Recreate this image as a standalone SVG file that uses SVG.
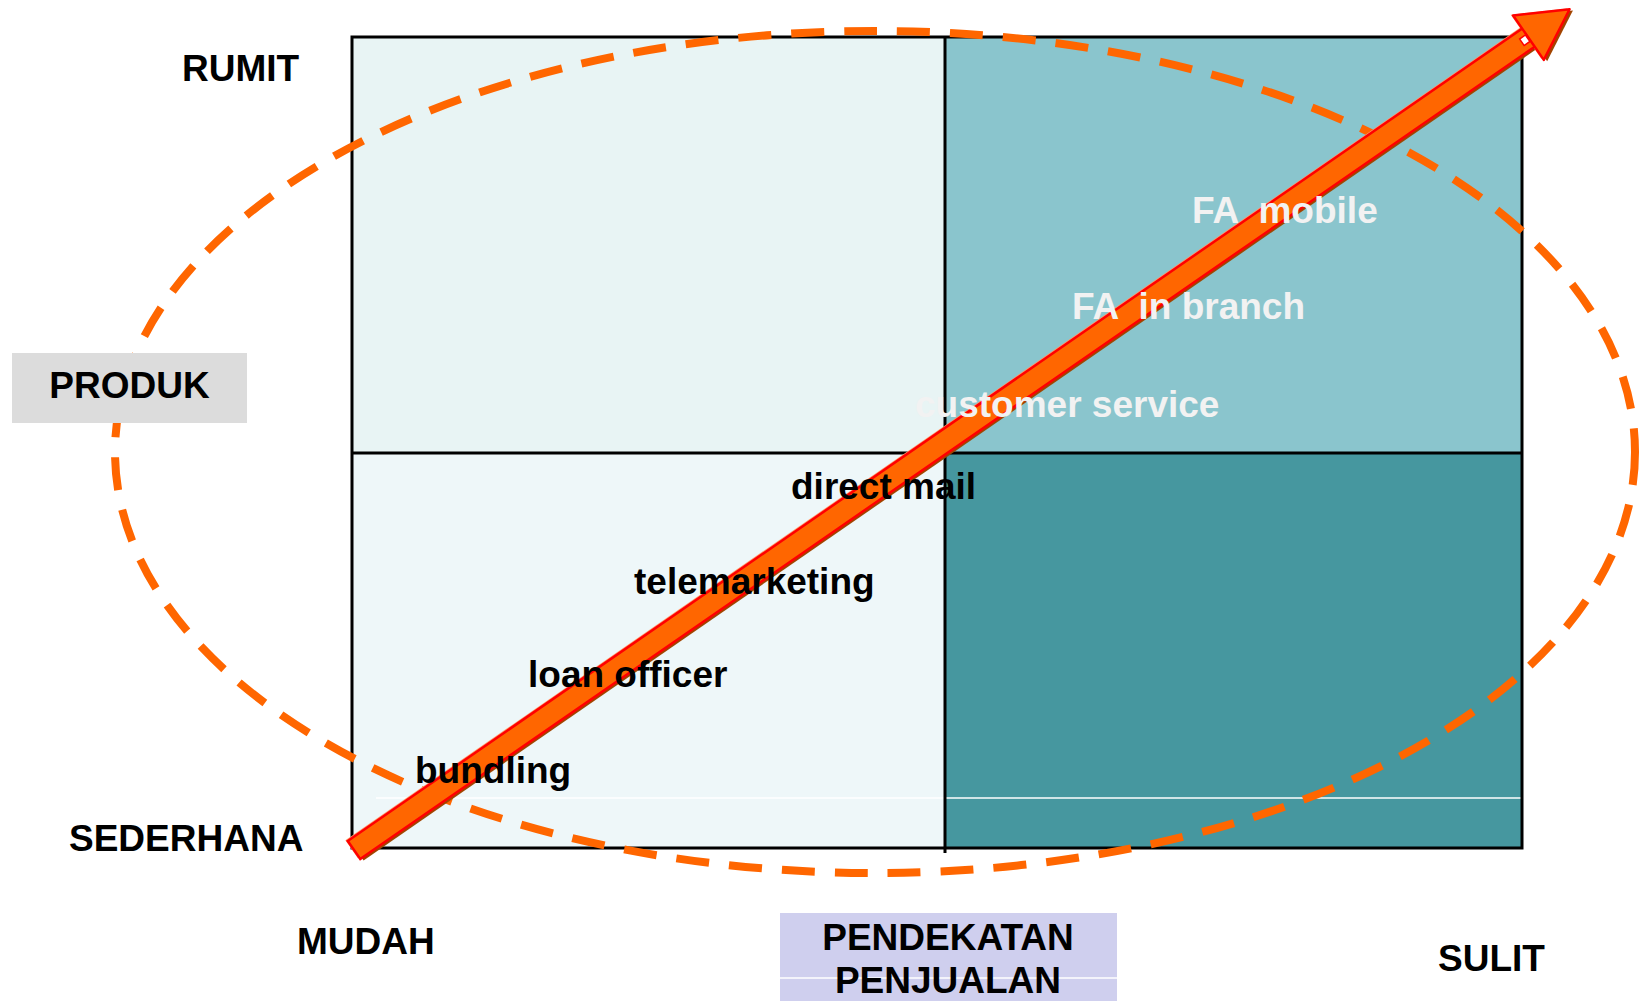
<svg xmlns="http://www.w3.org/2000/svg" width="1639" height="1001" viewBox="0 0 1639 1001">
<style>
text{font-family:"Liberation Sans",Arial,Helvetica,sans-serif;font-weight:bold;font-size:37px;fill:#000}
.w{fill:#f2f2f2}
.grid{stroke:#000;stroke-width:3;fill:none}
</style>
<rect width="1639" height="1001" fill="#fff"/>
<g id="grid">
<rect x="352" y="37" width="593" height="416" fill="#e8f4f4"/>
<rect x="945" y="37" width="577" height="416" fill="#8ac5cd"/>
<rect x="352" y="453" width="593" height="395" fill="#eef7f9"/>
<rect x="945" y="453" width="577" height="395" fill="#46979f"/>
<line x1="376" y1="798" x2="1521" y2="798" stroke="#fff" stroke-width="1.5"/>
<rect class="grid" x="352" y="37" width="1170" height="811"/>
<line class="grid" x1="945" y1="37" x2="945" y2="853"/>
<line class="grid" x1="352" y1="453" x2="1522" y2="453"/>
</g>
<g id="connectors">
<ellipse cx="875" cy="452" rx="760" ry="421" fill="none" stroke="#ff6600" stroke-width="8" stroke-dasharray="33 20"/>
<g transform="translate(354,850) rotate(-34.67)">
<g transform="translate(2,3)" fill="#a24400">
<rect x="0" y="-11" width="1432" height="22"/>
<polygon points="1428,-27 1478,0 1428,27"/>
</g>
<g transform="translate(-1.5,-2)" fill="#ff9966">
<rect x="0" y="-11" width="1432" height="22"/>
<polygon points="1428,-27 1478,0 1428,27"/>
</g>
<rect x="0" y="-11" width="1432" height="22" fill="#ff6600" stroke="#ff0000" stroke-width="2.5"/>
<polygon points="1428,-27 1478,0 1428,27" fill="#ff6600" stroke="#ff0000" stroke-width="2.5" stroke-linejoin="round"/>
<rect x="1420" y="-4" width="7" height="8" fill="#fff" stroke="#ff0000" stroke-width="1.5"/>
</g>
</g>
<g id="axis-labels">
<g id="rumit"><text x="182" y="81">RUMIT</text></g>
<g id="sederhana"><text x="69" y="851">SEDERHANA</text></g>
<g id="mudah"><text x="297" y="954">MUDAH</text></g>
<g id="sulit"><text x="1438" y="971">SULIT</text></g>
<g id="produk"><rect x="12" y="353" width="235" height="70" fill="#dcdcdc"/><text x="129.5" y="398" text-anchor="middle">PRODUK</text></g>
<g id="pendekatan"><rect x="780" y="913" width="337" height="88" fill="#cfcfee"/><line x1="780" y1="978" x2="1117" y2="978" stroke="#fff" stroke-width="1.5"/><text x="948" y="950" text-anchor="middle">PENDEKATAN</text><text x="948" y="993" text-anchor="middle">PENJUALAN</text></g>
</g>
<g id="channels-white">
<g id="fa-mobile"><text class="w" x="1192" y="223" xml:space="preserve">FA  mobile</text></g>
<g id="fa-branch"><text class="w" x="1072" y="319" xml:space="preserve">FA  in branch</text></g>
<g id="customer-service"><text class="w" x="915" y="417">customer service</text></g>
</g>
<g id="channels-black">
<g id="direct-mail"><text x="791" y="499">direct mail</text></g>
<g id="telemarketing"><text x="634" y="594">telemarketing</text></g>
<g id="loan-officer"><text x="528" y="687">loan officer</text></g>
<g id="bundling"><text x="415" y="783">bundling</text></g>
</g>
</svg>
